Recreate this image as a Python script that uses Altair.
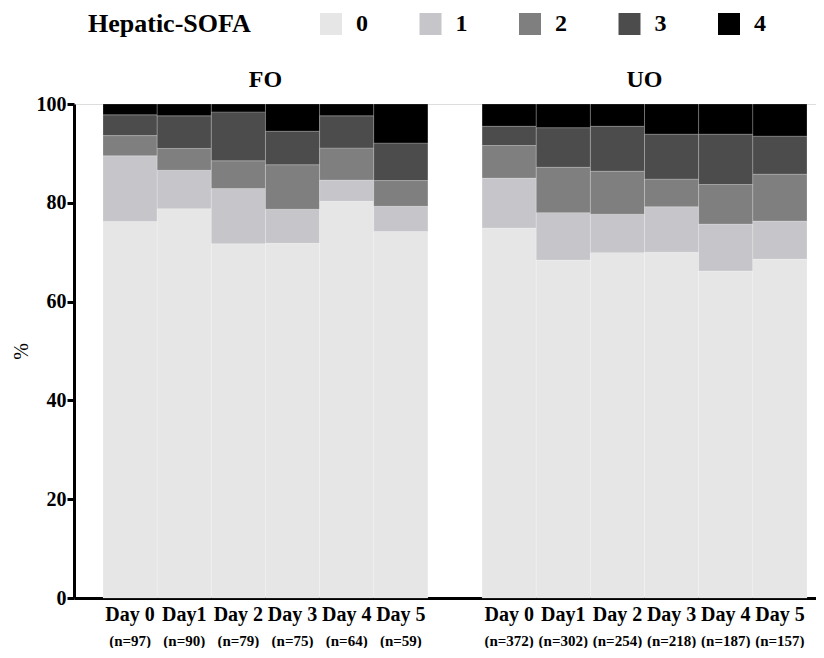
import altair as alt
import pandas as pd

groups = ["FO", "UO"]
day_labels = ["Day 0", "Day1", "Day 2", "Day 3", "Day 4", "Day 5"]
fo_n = [97, 90, 79, 75, 64, 59]
uo_n = [372, 302, 254, 218, 187, 157]
levels = ["0", "1", "2", "3", "4"]
colors = ["#e6e6e6", "#c5c5ca", "#7f7f7f", "#4c4c4c", "#000000"]

# percentage of each Hepatic-SOFA level (0..4) per day
fo_pct = [
    [76.2, 13.3, 4.1, 4.2, 2.2],
    [78.8, 7.8, 4.4, 6.6, 2.4],
    [71.7, 11.2, 5.6, 9.9, 1.6],
    [71.8, 6.9, 9.0, 6.8, 5.5],
    [80.3, 4.3, 6.5, 6.5, 2.4],
    [74.2, 5.1, 5.2, 7.6, 7.9],
]
uo_pct = [
    [74.9, 10.1, 6.6, 3.9, 4.5],
    [68.4, 9.6, 9.2, 8.0, 4.8],
    [69.9, 7.8, 8.7, 9.1, 4.5],
    [70.0, 9.2, 5.6, 9.1, 6.1],
    [66.2, 9.5, 8.0, 10.2, 6.1],
    [68.6, 7.7, 9.5, 7.7, 6.5],
]

FONT = "Liberation Serif"

rows, lab_rows = [], []
for g, pct, ns in [("FO", fo_pct, fo_n), ("UO", uo_pct, uo_n)]:
    for i, day in enumerate(day_labels):
        key = f"{g}:{day}"
        lab_rows.append({"key": key, "n": f"(n={ns[i]})"})
        for lvl, v in zip(levels, pct[i]):
            rows.append({"key": key, "level": lvl, "lvl": int(lvl), "pct": v})
df = pd.DataFrame(rows)
lab_df = pd.DataFrame(lab_rows)
title_df = pd.DataFrame([{"key": "FO:Day 2", "text": "FO"}, {"key": "UO:Day 2", "text": "UO"}])

domain = [f"FO:{d}" for d in day_labels] + ["gap"] + [f"UO:{d}" for d in day_labels]

xscale = alt.Scale(domain=domain, paddingInner=0, paddingOuter=0.351, align=0.763)

bars = alt.Chart(df).mark_bar(stroke="#ffffff", strokeWidth=0.4, strokeOpacity=0.5).encode(
    x=alt.X("key:N", scale=xscale, title=None,
            axis=alt.Axis(labelExpr="substring(datum.value, 3)", ticks=False, labelAngle=0,
                          labelFont=FONT, labelFontSize=20, labelFontWeight="bold",
                          labelColor="black", labelPadding=6, domainColor="black",
                          domainWidth=3, labelBaseline="top")),
    y=alt.Y("pct:Q", stack="zero", scale=alt.Scale(domain=[0, 100], nice=False),
            axis=alt.Axis(values=[0, 20, 40, 60, 80, 100], title="%", grid=False,
                          labelFont=FONT, labelFontSize=20, labelFontWeight="bold",
                          labelColor="black", tickColor="black", tickWidth=3, tickSize=7,
                          domainColor="black", domainWidth=3, labelPadding=1,
                          titleFont=FONT, titleFontSize=20, titleFontWeight="normal",
                          titleColor="black", titlePadding=5)),
    color=alt.Color("level:N", scale=alt.Scale(domain=levels, range=colors),
                    legend=alt.Legend(orient="none", legendX=14, legendY=-92,
                                      direction="horizontal", title="Hepatic-SOFA",
                                      titleOrient="left", titleFont=FONT, titleFontSize=26,
                                      titleFontWeight="bold", titleColor="black",
                                      titlePadding=68, symbolType="square", symbolSize=484,
                                      symbolStrokeWidth=0, labelFont=FONT, labelFontSize=24,
                                      labelFontWeight="bold", labelColor="black",
                                      labelOffset=13, columnPadding=50.5)),
    order=alt.Order("lvl:Q", sort="ascending"),
)

n_text = alt.Chart(lab_df).mark_text(font=FONT, fontSize=15, fontWeight="bold",
                                     color="black", baseline="middle").encode(
    x=alt.X("key:N", scale=xscale),
    y=alt.value(537),
    text="n:N",
)

panel_titles = alt.Chart(title_df).mark_text(font=FONT, fontSize=24, fontWeight="bold",
                                             color="black", baseline="middle").encode(
    x=alt.X("key:N", scale=xscale, bandPosition=1),
    y=alt.value(-24),
    text="text:N",
)

chart = alt.layer(bars, n_text, panel_titles).properties(
    width=742, height=494,
    autosize=alt.AutoSizeParams(type="none"),
    padding={"left": 66, "top": 96, "right": 0, "bottom": 50},
).configure_view(stroke=None).configure(background="white")

chart.save("out.html", embed_options={"renderer": "svg", "actions": False})
